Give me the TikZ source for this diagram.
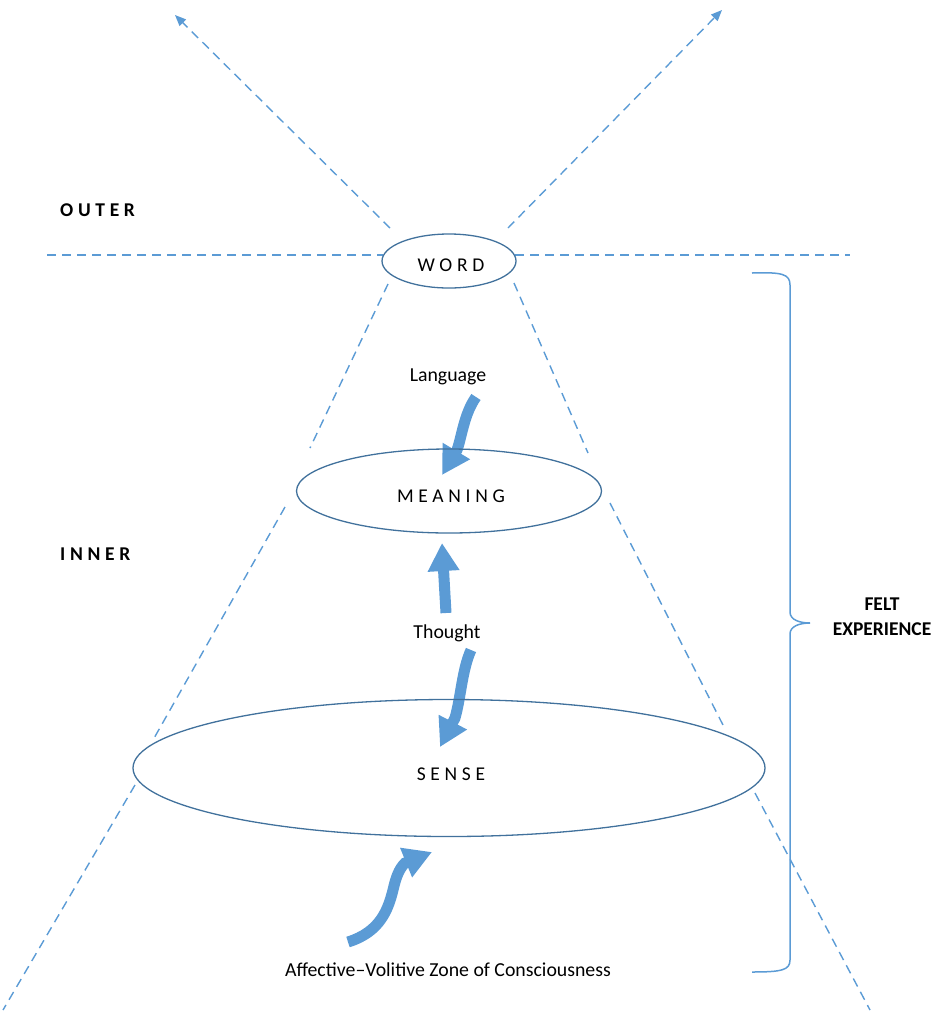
\documentclass[tikz,border=0pt]{standalone}
\usepackage{fontspec}
\setmainfont{Carlito}
\newfontfamily\spacedfont[LetterSpace=24]{Carlito}
\usetikzlibrary{shapes.geometric,arrows.meta}
\definecolor{dashblue}{HTML}{5B9BD5}
\definecolor{ellblue}{HTML}{41719C}
\definecolor{arrblue}{HTML}{5B9BD5}
\begin{document}
\begin{tikzpicture}[x=1pt,y=-1pt,
  dline/.style={dashblue, line width=1.4pt, dash pattern=on 9pt off 6pt},
  ell/.style={ellipse, draw=ellblue, line width=1.3pt, inner sep=0pt},
  fat/.style={arrblue, line width=11pt, -{Triangle[length=28pt,width=30pt]}},
  lbl/.style={font=\fontsize{19.8}{23}\selectfont, inner sep=0pt},
  caps/.style={font=\spacedfont\fontsize{19.5}{23}\selectfont, inner sep=0pt},
  bracestyle/.style={dashblue, line width=1.5pt}]
\useasboundingbox (0,0) rectangle (938,1013);

% outer / inner division
\draw[dline] (47,255) -- (383,255);
\draw[dline] (515,255) -- (850,255);
\draw[dline, -{Triangle[length=11pt,width=9pt]}] (390,228) -- (175,15);
\draw[dline, -{Triangle[length=11pt,width=9pt]}] (508,228) -- (722,10);

% cone lines
\draw[dline] (388,284) -- (310,448);
\draw[dline] (285,507) -- (153,740);
\draw[dline] (135,785) -- (3,1010);
\draw[dline] (514,283) -- (588,453);
\draw[dline] (610,503) -- (723,725);
\draw[dline] (755,793) -- (870,1010);

% brace
\draw[bracestyle] (752,273) .. controls (782,272) and (790,274) .. (790,285) -- (790,612)
  .. controls (790,620) and (800,623) .. (810,623)
  .. controls (800,623) and (790,626) .. (790,634) -- (790,960)
  .. controls (790,970) and (782,972) .. (752,972);

% thick arrows
\draw[fat] (476,397) .. controls (464,414) and (462,436) .. (457,450) -- (442,475);
\draw[fat] (446,613) -- (442,543);
\draw[fat] (471,650) .. controls (462,670) and (461,697) .. (455,718) -- (440,747);
\draw[fat] (348,942) .. controls (380,932) and (388,910) .. (393,890) .. controls (396,877) and (399,869) .. (405,863) -- (432,852);

% ellipses
\node[ell, minimum width=134pt, minimum height=54pt] (word) at (449,261) {};
\node[ell, minimum width=305pt, minimum height=84pt] (meaning) at (449,491) {};
\node[ell, minimum width=632pt, minimum height=137pt] (sense) at (449,768) {};

\node[caps] (wordt) at (451,265) {WORD};
\node[caps] (meaningt) at (451,496) {MEANING};
\node[caps] (senset) at (451,774) {SENSE};

% labels
\node[lbl] (language) at (448,377) {Language};
\node[lbl] (thought) at (447,633) {Thought};
\node[lbl] (affective) at (448,970) {Affective–Volitive Zone of Consciousness};
\node[caps, anchor=west] (outer) at (60,210) {\bfseries OUTER};
\node[caps, anchor=west] (inner) at (60,554) {\bfseries INNER};
\node[lbl, font=\fontsize{19.5}{25}\selectfont\bfseries, align=center] (felt) at (882,617) {FELT\\EXPERIENCE};
\end{tikzpicture}
\end{document}
